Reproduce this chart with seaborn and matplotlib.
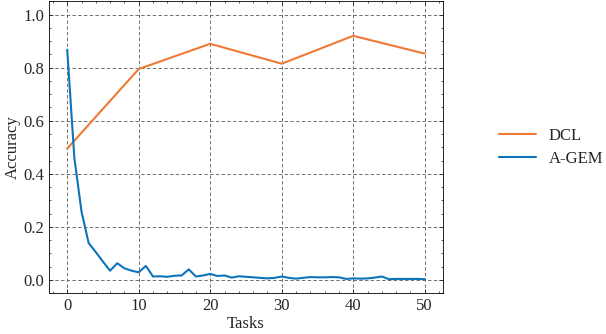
import matplotlib
matplotlib.use("Agg")
import matplotlib.pyplot as plt
import seaborn as sns
import pandas as pd
import numpy as np
from matplotlib.ticker import MultipleLocator

# DCL is evaluated every 10 tasks
dcl_tasks = [0, 10, 20, 30, 40, 50]
dcl_acc = [0.495, 0.795, 0.890, 0.815, 0.920, 0.853]

# A-GEM evaluated after every task
agem_tasks = list(range(51))
agem_acc = [0.868, 0.460, 0.258, 0.139, 0.105, 0.069, 0.035, 0.063, 0.044, 0.035,
            0.029, 0.053, 0.013, 0.014, 0.012, 0.016, 0.017, 0.040, 0.013, 0.017,
            0.023, 0.015, 0.017, 0.009, 0.014, 0.012, 0.010, 0.008, 0.006, 0.008,
            0.013, 0.008, 0.005, 0.008, 0.011, 0.010, 0.010, 0.011, 0.010, 0.004,
            0.006, 0.005, 0.006, 0.009, 0.013, 0.003, 0.004, 0.004, 0.004, 0.004,
            0.003]

methods = ["DCL", "A-GEM"]
colors = ["#EF7A35", "#0C74BB"]

df = pd.concat([
    pd.DataFrame({"Tasks": dcl_tasks, "Accuracy": dcl_acc, "Method": "DCL"}),
    pd.DataFrame({"Tasks": agem_tasks, "Accuracy": agem_acc, "Method": "A-GEM"}),
])

sns.set_theme(style="ticks")
plt.rcParams['font.family'] = 'serif'
plt.rcParams['font.serif'] = ['Liberation Serif', 'Times New Roman', 'DejaVu Serif']
plt.rcParams.update({
    'font.size': 12, 'axes.labelsize': 12,
    'xtick.labelsize': 12, 'ytick.labelsize': 12, 'legend.fontsize': 12,
    'xtick.direction': 'in', 'ytick.direction': 'in',
    'xtick.top': True, 'ytick.right': True,
    'xtick.major.size': 3, 'ytick.major.size': 3,
    'xtick.minor.size': 1.5, 'ytick.minor.size': 1.5,
    'xtick.major.width': 0.6, 'ytick.major.width': 0.6,
    'xtick.minor.width': 0.5, 'ytick.minor.width': 0.5,
    'xtick.minor.visible': True, 'ytick.minor.visible': True,
    'axes.linewidth': 0.6, 'axes.edgecolor': 'black',
})

fig = plt.figure(figsize=(6.06, 3.34), dpi=100)
ax = fig.add_axes([0.0814, 0.122, 0.649, 0.874])

sns.lineplot(data=df, x="Tasks", y="Accuracy", hue="Method", hue_order=methods,
             palette=colors, linewidth=1.5, ax=ax)

ax.set_ylim(-0.05, 1.05)
ax.xaxis.set_major_locator(MultipleLocator(10))
ax.xaxis.set_minor_locator(MultipleLocator(2))
ax.yaxis.set_major_locator(MultipleLocator(0.2))
ax.yaxis.set_minor_locator(MultipleLocator(0.05))
ax.grid(True, which='major', color='#707070', linestyle=(0, (3.5, 2.4)), linewidth=0.7)
ax.set_xlabel("Tasks", labelpad=1)
ax.set_ylabel("Accuracy", labelpad=2)

ax.legend(loc='center left', bbox_to_anchor=(1.105, 0.5), frameon=False,
          handlelength=2.2, labelspacing=0.45)

fig.savefig("out.png", dpi=100)
